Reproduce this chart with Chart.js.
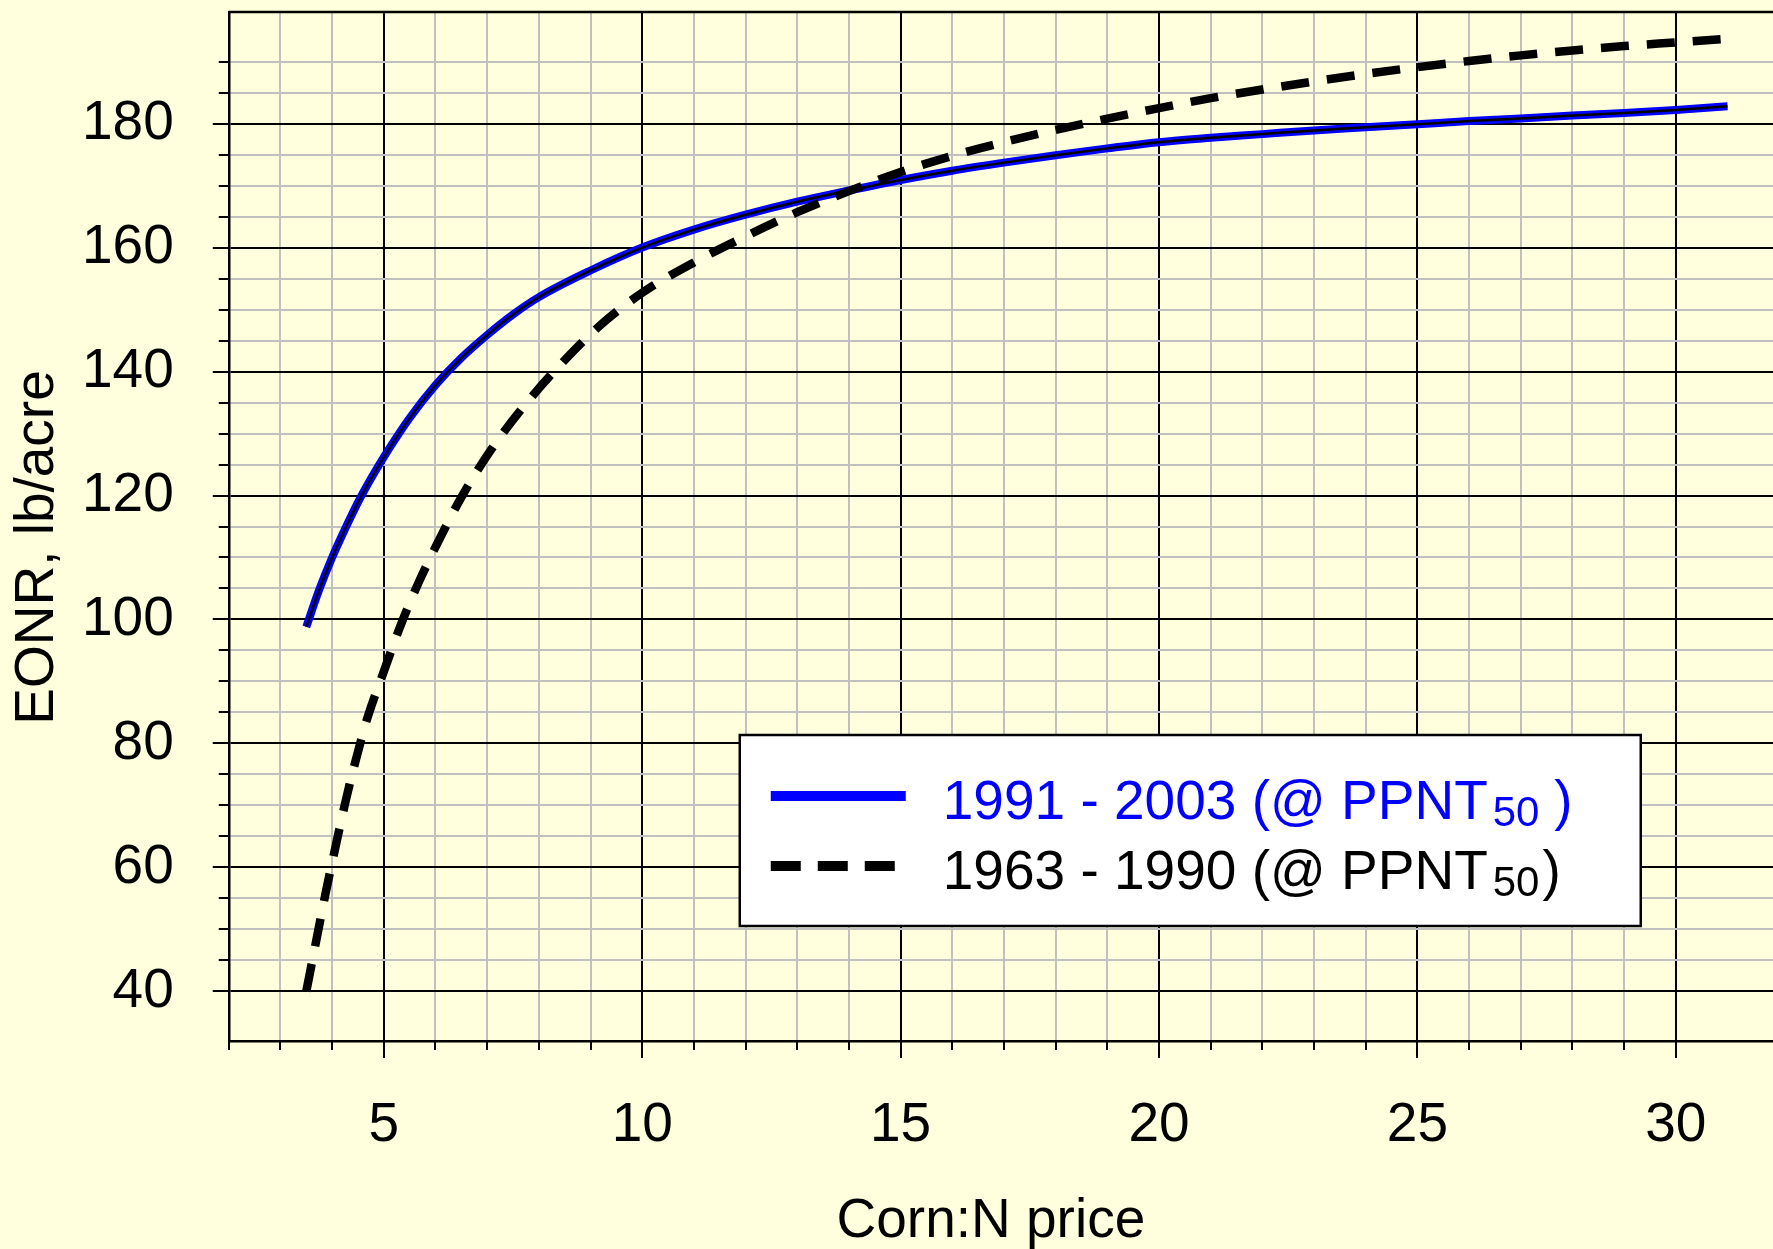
<!DOCTYPE html>
<html>
<head>
<meta charset="utf-8">
<title>EONR vs Corn:N price</title>
<script src="https://cdn.jsdelivr.net/npm/chart.js@4.4.1/dist/chart.umd.min.js"></script>
<style>
  html, body { margin: 0; padding: 0; background: #ffffde; }
  #plot { display: block; }
</style>
</head>
<body>
<canvas id="plot" width="1773" height="1249" style="width:1773px;height:1249px"></canvas>
<script>
// Economic optimum N rate (lb/acre) against the corn:N price ratio.

// 1991 - 2003 response (at PPNT 50)
const priceRecent = [3.5, 3.75, 4.0, 4.25, 4.5, 4.75, 5.0, 5.5, 6.0, 6.5, 7.0, 7.5, 8, 9, 10, 11, 12, 13, 14, 15, 16, 17, 18, 19, 20, 21, 22, 23, 24, 25, 26, 27, 28, 29, 30, 31];
const eonrRecent  = [98.8, 104.8, 110.0, 114.6, 118.9, 122.7, 126.2, 132.5, 137.8, 142.2, 145.9, 149.2, 152.0, 156.3, 160.0, 162.9, 165.3, 167.4, 169.2, 170.9, 172.4, 173.7, 174.9, 176.0, 177.0, 177.7, 178.3, 178.9, 179.4, 179.9, 180.4, 180.8, 181.3, 181.7, 182.2, 182.8];

// 1963 - 1990 response (at PPNT 50)
const priceEarly = [3.5, 3.7, 3.88, 4.06, 4.25, 4.46, 4.69, 5.0, 5.3, 5.67, 6.08, 6.5, 7.06, 7.71, 8.45, 9.18, 10, 11, 12, 13, 14, 15, 16, 17, 18, 19, 20, 21, 22, 23, 24, 25, 26, 27, 28, 29, 30, 31];
const eonrEarly  = [40, 48.5, 56.1, 63.1, 70.3, 77.4, 84.3, 91.6, 98.5, 105.9, 113.0, 119.7, 127.2, 134.4, 141.4, 147.4, 152.7, 157.6, 161.8, 165.7, 169.1, 172.2, 174.8, 177.0, 179.0, 180.8, 182.5, 184.1, 185.5, 186.8, 188.0, 189.1, 190.1, 191.0, 191.8, 192.5, 193.1, 193.7];

// axis extents and tick steps
const xLimits = [2, 31.88];
const yLimits = [32, 198];
const xMinorStep = 1, xMajorStep = 5;
const yMinorStep = 5, yMajorStep = 20;

// texts
const xTitle = 'Corn:N price';
const yTitle = 'EONR, lb/acre';
const legendParts = [
  ['1991 - 2003 (@ PPNT', '50 ', ')'],
  ['1963 - 1990 (@ PPNT', '50', ')']
];

const FONT = "'Liberation Sans', Arial, Helvetica, sans-serif";
const BG = '#ffffde';
const BLUE = '#0000ff';
const MINOR_GRID = '#c0c0c0';

const toPoints = (xs, ys) => xs.map((x, i) => ({ x: x, y: ys[i] }));
const isMultiple = (v, step) => Math.abs(v / step - Math.round(v / step)) < 1e-9;

// page background under the whole canvas
const backgroundPlugin = {
  id: 'paper',
  beforeDraw(chart) {
    const c = chart.ctx;
    c.save();
    c.fillStyle = BG;
    c.fillRect(0, 0, chart.width, chart.height);
    c.restore();
  }
};

// tick marks (long for labelled ticks, short otherwise), top frame line,
// axis titles and the boxed key
const decorPlugin = {
  id: 'decor',
  afterDraw(chart) {
    const c = chart.ctx;
    const a = chart.chartArea;
    const xs = chart.scales.x, ys = chart.scales.y;
    c.save();

    c.strokeStyle = '#000';
    c.lineWidth = 2;
    c.beginPath();
    xs.ticks.forEach(t => {
      const px = Math.round(xs.getPixelForValue(t.value));
      const len = isMultiple(t.value, xMajorStep) ? 17 : 9;
      c.moveTo(px, a.bottom);
      c.lineTo(px, a.bottom + len);
    });
    ys.ticks.forEach(t => {
      const py = Math.round(ys.getPixelForValue(t.value));
      const len = isMultiple(t.value, yMajorStep) ? 16 : 10;
      c.moveTo(a.left - len, py);
      c.lineTo(a.left, py);
    });
    c.stroke();

    // top frame
    c.lineWidth = 2.5;
    c.beginPath();
    c.moveTo(a.left, a.top);
    c.lineTo(a.right, a.top);
    c.stroke();

    // axis titles
    c.fillStyle = '#000';
    c.font = '55px ' + FONT;
    c.textAlign = 'center';
    c.textBaseline = 'alphabetic';
    c.fillText(xTitle, (a.left + a.right) / 2 - 10, a.bottom + 196);

    c.save();
    c.translate(53, (a.top + a.bottom) / 2 + 21);
    c.rotate(-Math.PI / 2);
    c.fillText(yTitle, 0, 0);
    c.restore();

    // key box
    const bx = a.left + 511, by = a.top + 723, bw = 901, bh = 191;
    c.fillStyle = '#ffffff';
    c.fillRect(bx, by, bw, bh);
    c.strokeStyle = '#000';
    c.lineWidth = 2.5;
    c.strokeRect(bx, by, bw, bh);

    const rows = [
      { color: BLUE, dash: [], y: by + 61 },
      { color: '#000', dash: [30, 17], y: by + 131 }
    ];
    rows.forEach((r, i) => {
      c.save();
      c.strokeStyle = r.color;
      c.lineWidth = 10;
      c.lineCap = 'butt';
      c.setLineDash(r.dash);
      c.beginPath();
      c.moveTo(bx + 31, r.y);
      c.lineTo(bx + 166, r.y);
      c.stroke();
      c.restore();

      const parts = legendParts[i];
      const base = r.y + 23;
      let tx = bx + 203;
      c.fillStyle = r.color;
      c.textAlign = 'left';
      c.textBaseline = 'alphabetic';
      c.font = '55px ' + FONT;
      c.fillText(parts[0], tx, base);
      tx += c.measureText(parts[0]).width + 5;
      c.font = '42px ' + FONT;
      c.fillText(parts[1], tx, base + 7);
      tx += c.measureText(parts[1]).width + 3;
      c.font = '55px ' + FONT;
      c.fillText(parts[2], tx, base);
    });

    c.restore();
  }
};

const tickFont = { family: FONT, size: 55 };
const gridColor = step => ctx => (ctx.tick && isMultiple(ctx.tick.value, step)) ? '#000' : MINOR_GRID;

new Chart(document.getElementById('plot'), {
  type: 'line',
  data: {
    datasets: [
      {
        label: '1991 - 2003',
        data: toPoints(priceRecent, eonrRecent),
        borderColor: BLUE,
        borderWidth: 8,
        pointRadius: 0,
        cubicInterpolationMode: 'monotone',
        order: 3
      },
      {
        label: '1991 - 2003 trace',
        data: toPoints(priceRecent, eonrRecent),
        borderColor: '#000',
        borderWidth: 2.5,
        pointRadius: 0,
        cubicInterpolationMode: 'monotone',
        order: 2
      },
      {
        label: '1963 - 1990',
        data: toPoints(priceEarly, eonrEarly),
        borderColor: '#000',
        borderWidth: 8.5,
        borderDash: [28, 18],
        borderCapStyle: 'butt',
        pointRadius: 0,
        cubicInterpolationMode: 'monotone',
        order: 1
      }
    ]
  },
  options: {
    responsive: false,
    animation: false,
    devicePixelRatio: 1,
    events: [],
    layout: { padding: { left: 82, top: 12, right: 0, bottom: 90 } },
    plugins: {
      legend: { display: false },
      tooltip: { enabled: false },
      title: { display: false }
    },
    scales: {
      x: {
        type: 'linear',
        position: 'bottom',
        min: xLimits[0],
        max: xLimits[1],
        afterBuildTicks: s => { s.ticks = s.ticks.filter(t => isMultiple(t.value, xMinorStep)); },
        ticks: {
          stepSize: xMinorStep,
          autoSkip: false,
          maxRotation: 0,
          padding: 0,
          color: '#000',
          font: tickFont,
          callback: v => isMultiple(v, xMajorStep) ? String(v) : []
        },
        grid: {
          color: gridColor(xMajorStep),
          lineWidth: 2,
          tickLength: 52,
          tickColor: 'rgba(0,0,0,0)'
        },
        border: { color: '#000', width: 2.5 }
      },
      y: {
        type: 'linear',
        position: 'left',
        min: yLimits[0],
        max: yLimits[1],
        afterBuildTicks: s => { s.ticks = s.ticks.filter(t => isMultiple(t.value, yMinorStep)); },
        ticks: {
          stepSize: yMinorStep,
          autoSkip: false,
          padding: 0,
          color: '#000',
          font: tickFont,
          callback: v => isMultiple(v, yMajorStep) ? String(v) : []
        },
        grid: {
          color: gridColor(yMajorStep),
          lineWidth: 2,
          tickLength: 55,
          tickColor: 'rgba(0,0,0,0)'
        },
        border: { color: '#000', width: 2.5 }
      }
    }
  },
  plugins: [backgroundPlugin, decorPlugin]
});
</script>
</body>
</html>
